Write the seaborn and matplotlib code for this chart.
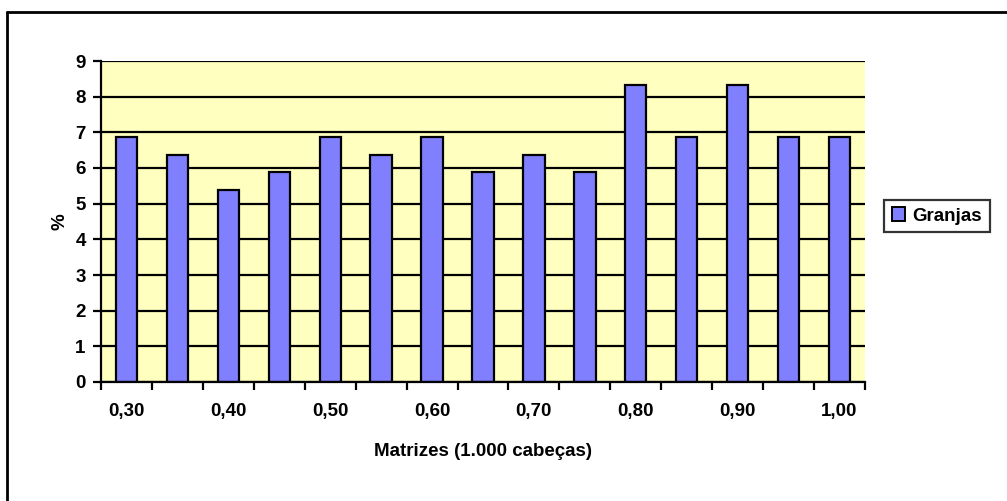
import matplotlib
matplotlib.use("Agg")
import matplotlib.pyplot as plt
import seaborn as sns
import pandas as pd
from matplotlib.lines import Line2D

categories = ["0,30", "0,35", "0,40", "0,45", "0,50", "0,55", "0,60", "0,65",
              "0,70", "0,75", "0,80", "0,85", "0,90", "0,95", "1,00"]
granjas = [6.86, 6.37, 5.39, 5.88, 6.86, 6.37, 6.86, 5.88,
           6.37, 5.88, 8.33, 6.86, 8.33, 6.86, 6.86]
series_name = "Granjas"
y_ticks = [0, 1, 2, 3, 4, 5, 6, 7, 8, 9]
x_label = "Matrizes (1.000 cabeças)"
y_label = "%"

sns.set_theme(style="white")
plt.rcParams["font.family"] = ["Liberation Sans", "DejaVu Sans"]
plt.rcParams["font.weight"] = "bold"
plt.rcParams["text.color"] = "black"
plt.rcParams["axes.labelcolor"] = "black"
plt.rcParams["xtick.color"] = "black"
plt.rcParams["ytick.color"] = "black"

FS = 13.5

df = pd.DataFrame({"cat": categories, "val": granjas, "serie": series_name})

fig = plt.figure(figsize=(10.07, 5.01), dpi=100)
W, H = 1007, 501
ax = fig.add_axes([101 / W, 1 - 382 / H, (865 - 101) / W, (382 - 61) / H])
ax.set_facecolor("#FFFFC0")
ax.set_axisbelow(True)

sns.barplot(data=df, x="cat", y="val", hue="serie", palette=["#8080FF"],
            saturation=1, width=0.42, edgecolor="black", linewidth=1.6, ax=ax,
            zorder=3, legend=True)

ax.set_xlim(-0.5, len(categories) - 0.5)
ax.set_ylim(0, 9)
ax.set_yticks(y_ticks)
ax.set_yticklabels([str(t) for t in y_ticks], fontsize=FS, fontweight="bold",
                   color="black")
ax.yaxis.grid(True, color="black", linewidth=1.6)
ax.xaxis.grid(False)

major = list(range(0, len(categories), 2))
ax.set_xticks(major)
ax.set_xticklabels([categories[i] for i in major], fontsize=FS, fontweight="bold",
                   color="black")
ax.set_xticks([i - 0.5 for i in range(len(categories) + 1)], minor=True)
ax.tick_params(axis="x", which="major", length=0, pad=15)
ax.tick_params(axis="x", which="minor", length=6, width=1.6, color="black",
               direction="out", bottom=True)
ax.tick_params(axis="y", length=6, width=1.6, color="black", direction="out",
               left=True, pad=5)

for s in ["top", "right"]:
    ax.spines[s].set_visible(False)
for s in ["left", "bottom"]:
    ax.spines[s].set_visible(True)
    ax.spines[s].set_color("black")
    ax.spines[s].set_linewidth(1.6)
    ax.spines[s].set_zorder(5)

ax.set_xlabel(x_label, fontsize=FS, fontweight="bold", labelpad=17, color="black")
ax.set_ylabel(y_label, fontsize=FS, fontweight="bold", labelpad=5, color="black")

leg = ax.legend(loc="center left", bbox_to_anchor=(884 / W, 1 - 216 / H),
                bbox_transform=fig.transFigure, frameon=True, fancybox=False,
                edgecolor="black", fontsize=FS, handlelength=0.7,
                handleheight=0.7, handletextpad=0.4, borderpad=0.42,
                borderaxespad=0)
leg.get_frame().set_linewidth(1.6)
for t in leg.get_texts():
    t.set_fontweight("bold")
    t.set_color("black")
for h in leg.legend_handles:
    h.set_edgecolor("black")
    h.set_linewidth(1.4)

fig.add_artist(Line2D([7 / W, 7 / W], [0, 1 - 12 / H], transform=fig.transFigure,
                      color="black", linewidth=2))
fig.add_artist(Line2D([7 / W, 1], [1 - 12 / H, 1 - 12 / H], transform=fig.transFigure,
                      color="black", linewidth=2))

fig.savefig("out.png", dpi=100, facecolor="white")
